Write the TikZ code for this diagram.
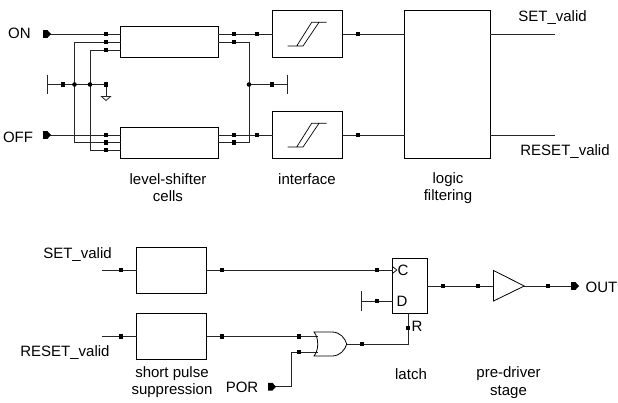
\documentclass[tikz,border=0pt]{standalone}
\usepackage{fontspec}
\setmainfont{Liberation Sans}
\tikzset{
  x=1pt,y=-1pt,
  wire/.style={line width=0.8pt,draw=black!85},
  boxshape/.style={draw=black,line width=0.8pt,fill=none,inner sep=0pt,outer sep=0pt},
  sq/.style={fill=black,draw=none,minimum size=4.2pt,inner sep=0pt,outer sep=0pt},
  junct/.style={circle,fill=black,draw=none,minimum size=4.6pt,inner sep=0pt,outer sep=0pt},
  lbl/.style={font=\fontsize{15}{17}\selectfont,inner sep=0pt,outer sep=0pt,align=center},
  port/.pic={\fill[black] (0,-3.8) -- (4.5,-3.8) -- (8,0) -- (4.5,3.8) -- (0,3.8) -- cycle;}
}
\newcommand{\blockat}[5]{\node[boxshape,minimum width=#4 pt,minimum height=#5 pt,anchor=north west] (#1) at (#2,#3) {};}
\begin{document}
\begin{tikzpicture}
\useasboundingbox (0,0) rectangle (618,402);
% blocks
\blockat{lsa}{120.5}{26}{97.5}{31}
\blockat{lsb}{120.5}{127}{97.5}{31}
\blockat{ifa}{272.5}{10.5}{70}{46.5}
\blockat{ifb}{272.5}{111.5}{70}{46.5}
\blockat{logic}{404.5}{10.5}{85.5}{147.5}
\blockat{spa}{136.5}{247}{70}{46.5}
\blockat{spb}{136.5}{313}{70}{46}
\blockat{latchbox}{392.5}{258.7}{34.8}{54.3}
% named ends
\foreach \n/\x/\y in {
  onp/50/34, offp/50/135,
  la1/120.5/34, la2/120.5/42, la3/120.5/50,
  lb1/120.5/135, lb2/120.5/142.5, lb3/120.5/150,
  ra1/218/34, ra2/218/42, rb1/218/135, rb2/218/142.5,
  ia/272.5/34, ib/272.5/135, oa/342.5/34, ob/342.5/135,
  fa/404.5/34, fb/404.5/135, ga/490/34, gb/490/135, sa/555/34, sb/555/135,
  vl1/74.5/42, vl2/74.5/142.5, vm1/90/50, vm2/90/150,
  vr1/249/42, vr2/249/142.5,
  hl/47.5/84.5, hg/106/84.5, hgd/106/96, hr/287.5/84.5, hv/249/84.5,
  hla/74.5/84.5, hlb/90/84.5,
  sai/102/270, sao/136.5/270, sbi/102/336.5, sbo/136.5/336.5,
  pao/206.5/270, pbo/206.5/336.5, clk/392.5/270,
  g1/317.5/336.5, g2/317.5/352, gout/346.7/344,
  dbar/361.5/301, din/392.5/301, rin/408/313, rc/408/344,
  porp/275/386.7, pb1/291.7/386.7, pb2/291.7/352,
  qo/427.3/286, tin/493.5/286, tout/524.3/286, op/571/286}
  {\coordinate (\n) at (\x,\y);}
% wires
\draw[wire] (onp) -- (la1);
\draw[wire] (offp) -- (lb1);
\draw[wire] (la2) -- (vl1) -- (vl2) -- (lb2);
\draw[wire] (la3) -- (vm1) -- (vm2) -- (lb3);
\draw[wire] (ra1) -- (ia);
\draw[wire] (rb1) -- (ib);
\draw[wire] (ra2) -- (vr1) -- (vr2) -- (rb2);
\draw[wire] (hl) -- (hg) -- (hgd);
\draw[wire] (hv) -- (hr);
\draw[wire] (oa) -- (fa);
\draw[wire] (ob) -- (fb);
\draw[wire] (ga) -- (sa);
\draw[wire] (gb) -- (sb);
\draw[wire] (sai) -- (sao);
\draw[wire] (sbi) -- (sbo);
\draw[wire] (pao) -- (clk);
\draw[wire] (pbo) -- (g1);
\draw[wire] (porp) -- (pb1) -- (pb2) -- (g2);
\draw[wire] (gout) -- (rc) -- (rin);
\draw[wire] (dbar) -- (din);
\draw[wire] (qo) -- (tin);
\draw[wire] (tout) -- (op);
% bars
\draw[wire] (47.5,75) -- (47.5,94);
\draw[wire] (287.5,75) -- (287.5,94);
\draw[wire] (361.5,291) -- (361.5,311);
% ground
\draw[wire] (101.5,96.5) -- (110.5,96.5) -- (106,100.5) -- cycle;
% hysteresis
\foreach \dy in {0,101}{
  \draw[line width=0.7pt,black] (287.7,46+\dy) -- (303,46+\dy) -- (319,22.3+\dy) -- (326.7,22.3+\dy) -- (311.7,22.3+\dy) -- (296.7,46+\dy);
}
% clock mark
\draw[line width=0.7pt,black] (392.5,266.5) -- (396.8,270) -- (392.5,273.5);
% OR gate
\draw[boxshape] (314,332) .. controls (319,338) and (319,350) .. (314,356) -- (332,356)
  .. controls (340,356) and (345,350) .. (346.7,344)
  .. controls (345,338) and (340,332) .. (332,332) -- cycle;
% buffer
\draw[boxshape] (493.5,270.5) -- (524.3,286) -- (493.5,301) -- cycle;
% ports
\pic at (43,34) {port};
\pic at (43,135) {port};
\pic at (268,386.7) {port};
\pic at (571,286) {port};
% square pins
\foreach \n/\x/\y in {
  p1/106/34,p2/106/42,p3/106/50,p4/106/135,p5/106/142.5,p6/106/150,
  p7/234/34,p8/234/42,p9/234/135,p10/234/142.5,p11/257/34,p12/257/135,
  p13/63/84.5,p14/106/84.5,p15/272/84.5,p16/358/34,p17/358/135,
  p18/121/270,p19/222/270,p20/377/270,p21/121/336.5,p22/222/336.5,p23/299/336.5,p24/299/352,
  p25/377/301,p26/408/328,p27/361.7/344,p28/443/286,p29/478/286,p30/548/286}
  {\node[sq] (\n) at (\x,\y) {};}
% junctions
\node[junct] (j1) at (hla) {};
\node[junct] (j2) at (hlb) {};
\node[junct] (j3) at (hv) {};
% labels
\node[lbl] (tON) at (19.5,33) {ON};
\node[lbl] (tOFF) at (18,137) {OFF};
\node[lbl] (tSa) at (552.5,18) {SET\_valid};
\node[lbl] (tRa) at (565,152) {RESET\_valid};
\node[lbl] (tLS) at (168,179.5) {level-shifter};
\node[lbl] (tLS2) at (168,196.5) {cells};
\node[lbl] (tIF) at (307,179.5) {interface};
\node[lbl] (tLF) at (448,179.5) {logic};
\node[lbl] (tLF2) at (448,196.5) {filtering};
\node[lbl] (tSb) at (77.5,255) {SET\_valid};
\node[lbl] (tRb) at (65,353) {RESET\_valid};
\node[lbl] (tSP) at (172,374) {short pulse};
\node[lbl] (tSP2) at (172,391) {suppression};
\node[lbl] (tPOR) at (242,387) {POR};
\node[lbl] (tL) at (411,374) {latch};
\node[lbl] (tPD) at (508.5,374) {pre-driver};
\node[lbl] (tPD2) at (508.5,392) {stage};
\node[lbl] (tOUT) at (601.5,287) {OUT};
\node[lbl] (tC) at (403,270) {C};
\node[lbl] (tD) at (402,301.5) {D};
\node[lbl] (tR) at (417,326) {R};
\end{tikzpicture}
\end{document}
